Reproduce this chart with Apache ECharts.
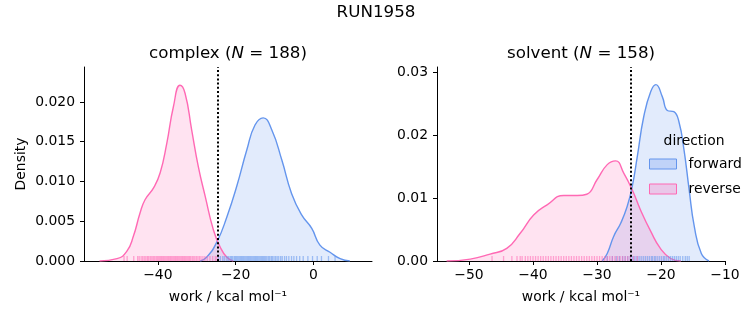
<!DOCTYPE html>
<html>
<head>
<meta charset="utf-8">
<script src="https://cdn.jsdelivr.net/npm/echarts@6/dist/echarts.min.js"></script>
<style>html,body{margin:0;padding:0;background:#fff}#c{width:753px;height:325px}</style>
</head>
<body>
<div id="c"></div>
<script>
// ---- data ----
const suptitle = 'RUN1958';
const directions = ['forward', 'reverse'];
const complexN = 188;
const solventN = 158;
const complexRef = -24.5;
const solventRef = -24.8;

// complex KDE curves
const complexFwdX = [-29.1, -27.4, -24.8, -22.2, -19.7, -17.1, -15.0, -12.9, -10.7, -8.1, -5.6, -3.0, -0.4, 1.7, 4.3, 6.9, 9.4];
const complexFwdY = [0, 0.0005, 0.0024, 0.0056, 0.0094, 0.0140, 0.0171, 0.0180, 0.0165, 0.0127, 0.0085, 0.0058, 0.0041, 0.0020, 0.0011, 0.0003, 0];
const complexRevX = [-55.0, -50.5, -48.0, -46.3, -44.6, -43.3, -41.1, -39.4, -37.7, -36.0, -34.3, -33.0, -31.3, -29.6, -27.8, -25.7, -24.0, -22.3, -20.6];
const complexRevY = [0, 0.0003, 0.0012, 0.0031, 0.0060, 0.0077, 0.0092, 0.0111, 0.0148, 0.0194, 0.0221, 0.0211, 0.0165, 0.0119, 0.0081, 0.0039, 0.0018, 0.0005, 0];

// solvent KDE curves
const solventFwdX = [-29.2, -28.4, -27.4, -26.3, -25.3, -24.5, -23.7, -22.7, -21.6, -20.8, -19.8, -19.0, -18.0, -17.2, -16.4, -15.6, -14.8, -13.7, -12.5];
const solventFwdY = [0, 0.0012, 0.0039, 0.0060, 0.0086, 0.0118, 0.0166, 0.0229, 0.0269, 0.0280, 0.0261, 0.0239, 0.0237, 0.0221, 0.0176, 0.0113, 0.0055, 0.0012, 0];
const solventRevX = [-53.5, -49.8, -46.7, -44.1, -42.0, -39.9, -37.8, -35.2, -33.1, -31.6, -30.0, -28.4, -27.1, -25.8, -24.5, -23.2, -21.6, -20.1, -18.5, -16.9];
const solventRevY = [0, 0.0003, 0.0011, 0.0020, 0.0044, 0.0073, 0.0089, 0.0104, 0.0104, 0.0106, 0.0129, 0.0153, 0.0159, 0.0139, 0.0113, 0.0081, 0.0047, 0.0020, 0.0004, 0];

// rug values
const complexFwdRug = [-24.4, -23.9, -23.3, -22.9, -22.4, -22.0, -21.7, -21.3, -21.0, -20.7, -20.3, -20.0, -19.7, -19.4, -19.1, -18.8, -18.5, -18.2, -17.9, -17.6, -17.3, -17.0, -16.7, -16.4, -16.1, -15.8, -15.5, -15.2, -14.9, -14.6, -14.3, -14.0, -13.7, -13.4, -13.1, -12.8, -12.5, -12.2, -11.9, -11.5, -11.2, -10.8, -10.5, -10.1, -9.7, -9.3, -8.9, -8.4, -8.0, -7.4, -6.9, -6.3, -5.6, -5.0, -4.3, -3.5, -2.6, -1.4, -0.2, 1.0, 2.1, 3.9, 5.6];
const complexRevRug = [-48.7, -47.9, -46.2, -45.2, -44.8, -44.3, -43.9, -43.5, -43.1, -42.7, -42.4, -42.0, -41.7, -41.3, -41.0, -40.7, -40.3, -40.0, -39.7, -39.4, -39.1, -38.8, -38.5, -38.2, -37.9, -37.6, -37.3, -37.0, -36.7, -36.4, -36.1, -35.8, -35.5, -35.2, -34.9, -34.6, -34.3, -34.0, -33.7, -33.4, -33.1, -32.8, -32.5, -32.2, -31.9, -31.6, -31.2, -30.9, -30.5, -30.1, -29.7, -29.3, -28.9, -28.4, -27.9, -27.3, -26.6, -25.9, -25.2, -24.8];
const solventFwdRug = [-28.4, -27.6, -27.0, -26.5, -26.0, -25.6, -25.2, -24.8, -24.5, -24.2, -23.9, -23.6, -23.3, -23.0, -22.7, -22.4, -22.1, -21.8, -21.5, -21.3, -21.0, -20.8, -20.5, -20.2, -19.9, -19.6, -19.4, -19.1, -18.8, -18.5, -18.2, -17.9, -17.6, -17.3, -17.0, -16.6, -16.2, -15.9, -15.6];
const solventRevRug = [-46.4, -44.6, -43.3, -42.5, -42.0, -41.7, -41.2, -40.8, -40.4, -40.0, -39.6, -39.2, -38.8, -38.4, -38.0, -37.6, -37.2, -36.8, -36.4, -36.0, -35.6, -35.2, -34.8, -34.4, -34.0, -33.6, -33.2, -32.8, -32.4, -32.0, -31.6, -31.2, -30.8, -30.4, -30.0, -29.6, -29.2, -28.8, -28.4, -28.0, -27.6, -27.2, -26.8, -26.4, -26.0, -25.6, -25.2, -24.8, -24.3, -23.7];

// ticks
const complexXTicks = [-40, -20, 0];
const complexYTicks = [0, 0.005, 0.010, 0.015, 0.020];
const solventXTicks = [-50, -40, -30, -20, -10];
const solventYTicks = [0, 0.01, 0.02, 0.03];

// ---- chart ----
const FONT = 'DejaVu Sans';
const BLUE = '#6495ED', PINK = '#FF69B4';
const BLUE_FILL = 'rgba(100,149,237,0.27)', PINK_FILL = 'rgba(255,105,180,0.27)';
const zip = (a, b) => a.map((v, i) => [v, b[i]]);

function xAxis(gi, min, max, ticks) {
  return {
    type: 'value', gridIndex: gi, min: min, max: max,
    name: 'work / kcal mol\u207B\u00B9', nameLocation: 'middle', nameGap: 29,
    nameTextStyle: {fontFamily: FONT, fontSize: 13.9, color: '#000'},
    axisLine: {show: true, onZero: false, lineStyle: {color: '#000', width: 1}},
    axisTick: {show: true, length: 4, customValues: ticks, lineStyle: {color: '#000'}},
    axisLabel: {customValues: ticks, margin: 7, fontFamily: FONT, fontSize: 13.9, color: '#000',
      formatter: v => (v < 0 ? '\u2212' + Math.abs(v) : String(v))},
    splitLine: {show: false}
  };
}
function yAxis(gi, max, ticks, dec, name) {
  return {
    type: 'value', gridIndex: gi, min: 0, max: max,
    name: name, nameLocation: 'middle', nameGap: 56, nameRotate: 90,
    nameTextStyle: {fontFamily: FONT, fontSize: 13.9, color: '#000'},
    axisLine: {show: true, onZero: false, lineStyle: {color: '#000', width: 1}},
    axisTick: {show: true, length: 4, customValues: ticks, lineStyle: {color: '#000'}},
    axisLabel: {customValues: ticks, margin: 9, fontFamily: FONT, fontSize: 13.9, color: '#000',
      formatter: v => v.toFixed(dec)},
    splitLine: {show: false}
  };
}
function kde(name, gi, xs, ys, color, fill, ref) {
  const s = {
    name: name, type: 'line', xAxisIndex: gi, yAxisIndex: gi,
    data: zip(xs, ys), smooth: 0.5, showSymbol: false, symbol: 'none',
    lineStyle: {color: color, width: 1.4}, itemStyle: {color: color},
    areaStyle: {color: fill, origin: 'start'}, silent: true, z: 2
  };
  if (ref !== undefined) {
    s.markLine = {
      silent: true, symbol: ['none', 'none'], label: {show: false},
      lineStyle: {color: '#000', width: 2, type: [2, 2.2]},
      data: [{xAxis: ref}], z: 5
    };
  }
  return s;
}
function rug(name, gi, vals, color) {
  return {
    name: name, type: 'scatter', xAxisIndex: gi, yAxisIndex: gi,
    data: vals.map(v => [v, 0]), symbol: 'rect', symbolSize: [1.3, 5], symbolOffset: [0, -2.5],
    itemStyle: {color: color}, clip: false, silent: true, z: 3
  };
}

const titleStyle = {fill: '#000', fontFamily: FONT, fontSize: 16.7};
const chart = echarts.init(document.getElementById('c'), null, {renderer: 'canvas'});
chart.setOption({
  animation: false,
  backgroundColor: '#fff',
  grid: [
    {left: 84, top: 67, width: 288, height: 194},
    {left: 437, top: 67, width: 288, height: 194}
  ],
  xAxis: [xAxis(0, -59, 15.1, complexXTicks), xAxis(1, -55, -10, solventXTicks)],
  yAxis: [yAxis(0, 0.0244, complexYTicks, 3, 'Density'), yAxis(1, 0.0308, solventYTicks, 2, '')],
  legend: {
    data: [
      {name: directions[0], itemStyle: {color: BLUE_FILL, borderColor: BLUE, borderWidth: 1}},
      {name: directions[1], itemStyle: {color: PINK_FILL, borderColor: PINK, borderWidth: 1}}
    ],
    orient: 'vertical', left: 649, top: 157, itemWidth: 27, itemHeight: 10, itemGap: 11,
    icon: 'rect', selectedMode: false, padding: 0,
    textStyle: {fontFamily: FONT, fontSize: 13.9, color: '#000', padding: [0, 0, 0, 7]}
  },
  graphic: [
    {type: 'text', x: 376, y: 13, style: Object.assign({text: suptitle, align: 'center', verticalAlign: 'middle'}, titleStyle)},
    {type: 'text', x: 228, y: 54, style: {
      text: '{a|complex (}{i|N}{a| = ' + complexN + ')}', align: 'center', verticalAlign: 'middle',
      rich: {a: titleStyle, i: Object.assign({fontStyle: 'italic'}, titleStyle)}}},
    {type: 'text', x: 581, y: 54, style: {
      text: '{a|solvent (}{i|N}{a| = ' + solventN + ')}', align: 'center', verticalAlign: 'middle',
      rich: {a: titleStyle, i: Object.assign({fontStyle: 'italic'}, titleStyle)}}},
    {type: 'text', x: 694, y: 141, z: 10, style: {text: 'direction', align: 'center', verticalAlign: 'middle',
      fill: '#000', fontFamily: FONT, fontSize: 13.9}}
  ],
  series: [
    kde(directions[0], 0, complexFwdX, complexFwdY, BLUE, BLUE_FILL, complexRef),
    kde(directions[1], 0, complexRevX, complexRevY, PINK, PINK_FILL),
    rug('forward rug complex', 0, complexFwdRug, 'rgba(100,149,237,0.7)'),
    rug('reverse rug complex', 0, complexRevRug, 'rgba(255,105,180,0.7)'),
    kde(directions[0], 1, solventFwdX, solventFwdY, BLUE, BLUE_FILL, solventRef),
    kde(directions[1], 1, solventRevX, solventRevY, PINK, PINK_FILL),
    rug('forward rug solvent', 1, solventFwdRug, 'rgba(100,149,237,0.7)'),
    rug('reverse rug solvent', 1, solventRevRug, 'rgba(255,105,180,0.7)')
  ]
});
</script>
</body>
</html>
